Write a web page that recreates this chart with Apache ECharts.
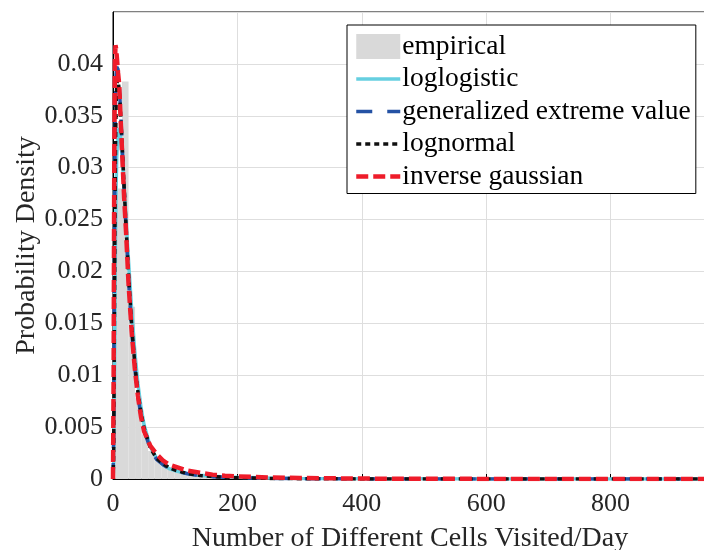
<!DOCTYPE html>
<html>
<head>
<meta charset="utf-8">
<script src="https://cdn.jsdelivr.net/npm/echarts@6/dist/echarts.min.js"></script>
<style>
html,body{margin:0;padding:0;background:#fff;}
#c{width:704px;height:550px;}
</style>
</head>
<body>
<div id="c"></div>
<script>
// ---- data ----
const xTicks = [0, 200, 400, 600, 800];
const yTicks = [0, 0.005, 0.01, 0.015, 0.02, 0.025, 0.03, 0.035, 0.04];

// histogram (empirical) bin edges and densities
const histEdges = [0, 4, 14.5, 25, 35.5, 46, 56.5, 67, 77.5, 88, 98.5, 109, 119.5, 130, 140.5, 151, 161.5, 172, 182.5, 193, 203.5, 214, 224.5, 235, 245.5, 256, 266.5, 277, 287.5, 298];
const histHeights = [0.020, 0.028, 0.0383, 0.0166, 0.0078, 0.0043, 0.0027, 0.0019, 0.0013, 0.001, 0.0008, 0.0006, 0.0005, 0.0004, 0.00033, 0.00027, 0.00022, 0.00018, 0.00015, 0.00013, 0.00011, 0.0001, 0.00009, 0.00008, 0.00007, 0.00006, 0.00005, 0.00004, 0.00003];

// x positions at which the fitted pdfs were read
const xPdf = [0, 1, 2, 3, 4, 5, 6, 8, 10, 12, 15, 18, 21, 25, 30, 35, 40, 45, 50, 60, 70, 80, 90, 100, 120, 140, 160, 180, 200, 250, 300, 400, 500, 600, 800, 955];

const logLogistic = [0, 0.001, 0.006, 0.015, 0.023, 0.028, 0.031, 0.0335, 0.0338, 0.033, 0.0308, 0.028, 0.025, 0.021, 0.0163, 0.0123, 0.0092, 0.0069, 0.0052, 0.0031, 0.002, 0.0014, 0.001, 0.0008, 0.00052, 0.00036, 0.00027, 0.0002, 0.00016, 0.00009, 0.00006, 0.00003, 0.000015, 0.00001, 0.000005, 0.000003];
const genExtreme = [0, 0.004, 0.018, 0.030, 0.036, 0.039, 0.0397, 0.0395, 0.038, 0.0357, 0.0318, 0.0278, 0.024, 0.0192, 0.0143, 0.0107, 0.008, 0.0061, 0.0047, 0.0029, 0.0019, 0.0014, 0.001, 0.0008, 0.0005, 0.00032, 0.00022, 0.00016, 0.00012, 0.00006, 0.00003, 0.00001, 0.000004, 0.000002, 0, 0];
const logNormal = [0, 0.002, 0.012, 0.024, 0.032, 0.036, 0.0381, 0.0385, 0.0375, 0.0355, 0.0318, 0.028, 0.0243, 0.0197, 0.0148, 0.0111, 0.0084, 0.0064, 0.0049, 0.003, 0.002, 0.0015, 0.0011, 0.00085, 0.00052, 0.00034, 0.00023, 0.00016, 0.00012, 0.00006, 0.00003, 0.00001, 0.000004, 0.000002, 0, 0];
const invGaussian = [0, 0.010, 0.030, 0.040, 0.0418, 0.0415, 0.0408, 0.0392, 0.038, 0.035, 0.031, 0.027, 0.0238, 0.0188, 0.0142, 0.0107, 0.008, 0.006, 0.0046, 0.0032, 0.0024, 0.0018, 0.0014, 0.0012, 0.0008, 0.0006, 0.00042, 0.00032, 0.00025, 0.00015, 0.0001, 0.00004, 0.00002, 0.00001, 0.000003, 0.000001];

const seriesNames = ['empirical', 'loglogistic', 'generalized extreme value', 'lognormal', 'inverse gaussian'];

// ---- build ----
const histData = histHeights.map((h, i) => [histEdges[i], histEdges[i + 1], h]);
const pairs = ys => xPdf.map((x, i) => [x, ys[i]]);
const serif = '"Liberation Serif", "Times New Roman", serif';
const tickColor = '#262626';

const styles = {
  loglogistic: {color: '#66cfe0', width: 3.5, type: 'solid'},
  gev: {color: '#2452a4', width: 3.5, type: [16, 15]},
  lognormal: {color: '#111111', width: 3.5, type: [5, 4]},
  invgauss: {color: '#ee1c2a', width: 4.5, type: [12, 5]}
};

const chart = echarts.init(document.getElementById('c'), null, {renderer: 'canvas'});
chart.setOption({
  animation: false,
  backgroundColor: '#fff',
  grid: {left: 113, top: 12, right: -3, bottom: 71, outerBoundsMode: 'none', containLabel: false,
    show: true, borderColor: '#000', borderWidth: 1, backgroundColor: 'transparent'},
  xAxis: {
    type: 'value', min: 0, max: 955, interval: 200,
    name: 'Number of Different Cells Visited/Day', nameLocation: 'middle', nameGap: 46,
    nameTextStyle: {fontFamily: serif, fontSize: 28, color: tickColor},
    axisLine: {lineStyle: {color: '#000', width: 1}},
    axisTick: {inside: true, length: 5, lineStyle: {color: '#000'}},
    axisLabel: {fontFamily: serif, fontSize: 26, color: tickColor, margin: 12, showMaxLabel: false,
      formatter: v => (xTicks.indexOf(v) >= 0 ? String(v) : '')},
    splitLine: {show: true, lineStyle: {color: '#dedede', width: 1}}
  },
  yAxis: {
    type: 'value', min: 0, max: 0.045, interval: 0.005,
    name: 'Probability Density', nameLocation: 'middle', nameGap: 72, nameMoveOverlap: false,
    nameTextStyle: {fontFamily: serif, fontSize: 28, color: tickColor},
    axisLine: {lineStyle: {color: '#000', width: 1}},
    axisTick: {inside: true, length: 5, lineStyle: {color: '#000'}},
    axisLabel: {fontFamily: serif, fontSize: 26, color: tickColor, margin: 10, showMaxLabel: false,
      formatter: v => {
        const t = yTicks.find(k => Math.abs(k - v) < 1e-9);
        return t === undefined ? '' : String(t);
      }},
    splitLine: {show: true, lineStyle: {color: '#dedede', width: 1}}
  },
  legend: {
    orient: 'vertical', left: 347, top: 25,
    padding: [7.5, 5, 3, 7], itemGap: 4.5, itemWidth: 44, itemHeight: 25,
    backgroundColor: '#fff', borderColor: '#000', borderWidth: 1, borderRadius: 0,
    selectedMode: false,
    textStyle: {fontFamily: serif, fontSize: 27.5, color: '#000', padding: [0, 0, 0, -3]},
    data: [
      {name: 'empirical', icon: 'rect', itemStyle: {color: '#d9d9d9', opacity: 1}},
      {name: 'loglogistic', itemStyle: {opacity: 0}, lineStyle: styles.loglogistic},
      {name: 'generalized extreme value', itemStyle: {opacity: 0}, lineStyle: styles.gev},
      {name: 'lognormal', itemStyle: {opacity: 0}, lineStyle: styles.lognormal},
      {name: 'inverse gaussian', itemStyle: {opacity: 0}, lineStyle: styles.invgauss}
    ]
  },
  series: [
    {
      name: seriesNames[0], type: 'custom', data: histData,
      encode: {x: [0, 1], y: 2},
      itemStyle: {color: '#d9d9d9'},
      renderItem: (params, api) => {
        const p0 = api.coord([api.value(0), api.value(2)]);
        const p1 = api.coord([api.value(1), 0]);
        return {type: 'rect', shape: {x: p0[0], y: p0[1], width: p1[0] - p0[0], height: p1[1] - p0[1]},
          style: {fill: '#d9d9d9'}};
      },
      z: 1
    },
    {name: seriesNames[1], type: 'line', data: pairs(logLogistic), symbol: 'none',
      lineStyle: styles.loglogistic, itemStyle: {color: styles.loglogistic.color}, z: 2},
    {name: seriesNames[2], type: 'line', data: pairs(genExtreme), symbol: 'none',
      lineStyle: styles.gev, itemStyle: {color: styles.gev.color}, z: 3},
    {name: seriesNames[3], type: 'line', data: pairs(logNormal), symbol: 'none',
      lineStyle: styles.lognormal, itemStyle: {color: styles.lognormal.color}, z: 4},
    {name: seriesNames[4], type: 'line', data: pairs(invGaussian), symbol: 'none',
      lineStyle: styles.invgauss, itemStyle: {color: styles.invgauss.color}, z: 5}
  ]
});
</script>
</body>
</html>
